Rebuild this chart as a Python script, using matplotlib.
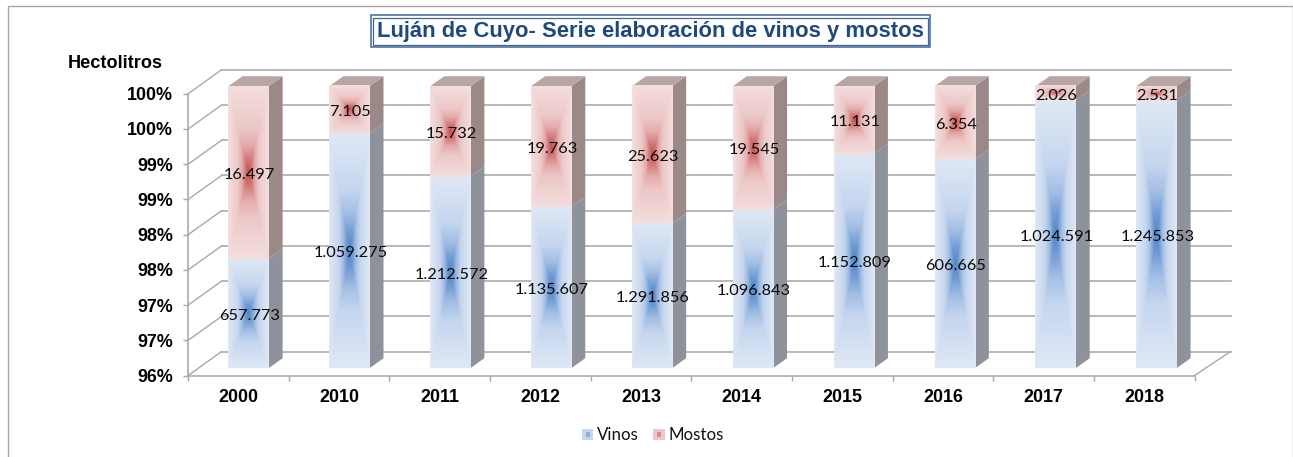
import numpy as np
import matplotlib
matplotlib.use("Agg")
import matplotlib.pyplot as plt
from matplotlib.colors import LinearSegmentedColormap
from matplotlib.legend_handler import HandlerBase
from matplotlib.patches import Patch, Polygon, Rectangle
from matplotlib.transforms import IdentityTransform

years = ["2000", "2010", "2011", "2012", "2013", "2014", "2015", "2016", "2017", "2018"]
vinos = [657773, 1059275, 1212572, 1135607, 1291856, 1096843, 1152809, 606665, 1024591, 1245853]
mostos = [16497, 7105, 15732, 19763, 25623, 19545, 11131, 6354, 2026, 2531]
vinos_labels = ["657.773", "1.059.275", "1.212.572", "1.135.607", "1.291.856",
                "1.096.843", "1.152.809", "606.665", "1.024.591", "1.245.853"]
mostos_labels = ["16.497", "7.105", "15.732", "19.763", "25.623",
                 "19.545", "11.131", "6.354", "2.026", "2.531"]
y_ticks = [96.0, 96.5, 97.0, 97.5, 98.0, 98.5, 99.0, 99.5, 100.0]
y_tick_labels = ["96%", "97%", "97%", "98%", "98%", "99%", "99%", "100%", "100%"]

W, H = 1293, 457
AXL, AXR, AXT, AXB = 188.2, 1194.6, 93.7, 375.5
PX_X = (AXR - AXL) / 10
PX_Y = (AXB - AXT) / 4
GRID = "#A8A8A8"
SANS = "Liberation Sans"

fig = plt.figure(figsize=(W / 100, H / 100), dpi=100, facecolor="white")
ax = fig.add_axes([AXL / W, 1 - AXB / H, (AXR - AXL) / W, (AXB - AXT) / H])
ax.patch.set_visible(False)

blue = LinearSegmentedColormap.from_list("b", [(0, "#4F86C6"), (.14, "#6E9BD3"), (.32, "#A3BFE5"),
                                               (.52, "#C6D6EF"), (1, "#E0E8F5")])
red = LinearSegmentedColormap.from_list("r", [(0, "#C34C4C"), (.14, "#D27676"), (.32, "#E4ABAB"),
                                              (.52, "#EDC8C8"), (1, "#F4DEDE")])
uu, vv = np.meshgrid(np.linspace(-1, 1, 121), np.linspace(-1, 1, 361))
grad = np.maximum(np.abs(uu), np.abs(vv))


def dpx(px):
    return px / PX_X


def dpy(px):
    return px / PX_Y


# walls
for v in y_ticks:
    ax.plot([dpx(33.5), 10 + dpx(36)], [v + dpy(24), v + dpy(24)], color=GRID, lw=1.15, zorder=1, clip_on=False)
    ax.plot([0, dpx(33.5)], [v, v + dpy(24)], color=GRID, lw=1.0, zorder=1, clip_on=False)
ax.plot([10, 10 + dpx(36)], [96, 96 + dpy(24)], color=GRID, lw=1.0, zorder=1, clip_on=False)

# bars
BW = dpx(40.2)
for i, (a, b) in enumerate(zip(vinos, mostos)):
    tot = a + b
    split = a / tot * 100
    xc = i + 0.5 + dpx(10 + 2.2 * i / 9)
    x0, x1 = xc - BW / 2, xc + BW / 2
    y0 = 96 + dpy(7.3)
    top = 100 + dpy(7.5)
    ys = split + dpy(7.4)
    ddx, ddy = dpx(14), dpy(10)
    # sides
    ax.add_patch(Polygon([(x1, y0), (x1 + ddx, y0 + ddy), (x1 + ddx, ys + ddy), (x1, ys)],
                         fc="#8D929B", ec="none", zorder=3, clip_on=False))
    ax.add_patch(Polygon([(x1, ys), (x1 + ddx, ys + ddy), (x1 + ddx, top + ddy), (x1, top)],
                         fc="#9B8987", ec="none", zorder=3, clip_on=False))
    ax.add_patch(Polygon([(x0, top), (x1, top), (x1 + ddx, top + ddy), (x0 + ddx, top + ddy)],
                         fc="#B8A6A4", ec="none", zorder=3, clip_on=False))
    # gradient faces
    ax.imshow(grad, extent=(x0, x1, y0, ys), cmap=blue, vmin=0, vmax=1, aspect="auto",
              zorder=3, interpolation="bilinear", clip_on=False)
    ax.imshow(grad, extent=(x0, x1, ys, top), cmap=red, vmin=0, vmax=1, aspect="auto",
              zorder=3, interpolation="bilinear", clip_on=False)
    ax.text(xc + dpx(1), (y0 + ys) / 2 - dpy(2.5), vinos_labels[i], ha="center", va="center", fontsize=11.8,
            family="Lato", color="#0A0A0A", zorder=5, clip_on=False)
    ax.text(xc + dpx(1), (ys + top) / 2 - dpy(2.5), mostos_labels[i], ha="center", va="center", fontsize=11.8,
            family="Lato", color="#0A0A0A", zorder=5, clip_on=False)

ax.set_xlim(0, 10)
ax.set_ylim(96, 100)
for s in ("top", "right"):
    ax.spines[s].set_visible(False)
for s in ("left", "bottom"):
    ax.spines[s].set_color(GRID)
    ax.spines[s].set_linewidth(1.15)
ax.set_yticks(y_ticks, y_tick_labels, family=SANS, fontweight="bold", fontsize=12.9, color="black")
ax.set_xticks(np.arange(11))
ax.set_xticks(np.arange(10) + 0.5, years, minor=True, family=SANS, fontweight="bold", fontsize=12.9, color="black")
ax.set_xticklabels([])
ax.tick_params(axis="x", which="major", length=3.6, width=1, color=GRID)
ax.tick_params(axis="x", which="minor", length=0, pad=10)
ax.tick_params(axis="y", length=3.6, width=1, color=GRID, pad=7.5)


def T(px, py):
    return px, H - py


# frame
fig.add_artist(Rectangle(T(7.5, 470), 1285, 464, transform=IdentityTransform(), fc="none", ec="#A6A6A6", lw=1.0))

# title box
fig.add_artist(Rectangle(T(370.5, 47), 559.5, 32, transform=IdentityTransform(), fc="white", ec="#3E6797", lw=1.1))
fig.add_artist(Rectangle(T(373, 44.5), 554.5, 27, transform=IdentityTransform(), fc="none", ec="#3E6797", lw=0.9))
fig.text(650 / W, 1 - 31.5 / H, "Luján de Cuyo- Serie elaboración de vinos y mostos", ha="center", va="center",
         family=SANS, fontweight="bold", fontsize=15.8, color="#1F497D")
fig.text(115 / W, 1 - 63 / H, "Hectolitros", ha="center", va="center", family=SANS, fontweight="bold",
         fontsize=13.1, color="black")


class Swatch(HandlerBase):
    def __init__(self, light, dark):
        super().__init__()
        self.light, self.dark = light, dark

    def create_artists(self, legend, orig, xd, yd, w, h, fs, trans):
        a = Rectangle((-xd, -yd), w, h, fc=self.light, ec="none", transform=trans)
        b = Rectangle((-xd + w * .3, -yd + h * .3), w * .4, h * .4, fc=self.dark, ec="none", transform=trans)
        return [a, b]


hv, hm = Patch(label="Vinos"), Patch(label="Mostos")
fig.legend(handles=[hv, hm], handler_map={hv: Swatch("#C6D6EF", "#8FAEDC"), hm: Swatch("#EDC6C6", "#DB8A8A")},
           loc="center", bbox_to_anchor=(653 / W, 1 - 435.5 / H), ncol=2, frameon=False,
           prop={"family": "Lato", "size": 12.2}, handlelength=0.66, handleheight=0.6,
           handletextpad=0.22, columnspacing=0.85, labelcolor="#111111", borderpad=0, borderaxespad=0)

fig.savefig("out.png", dpi=100)
